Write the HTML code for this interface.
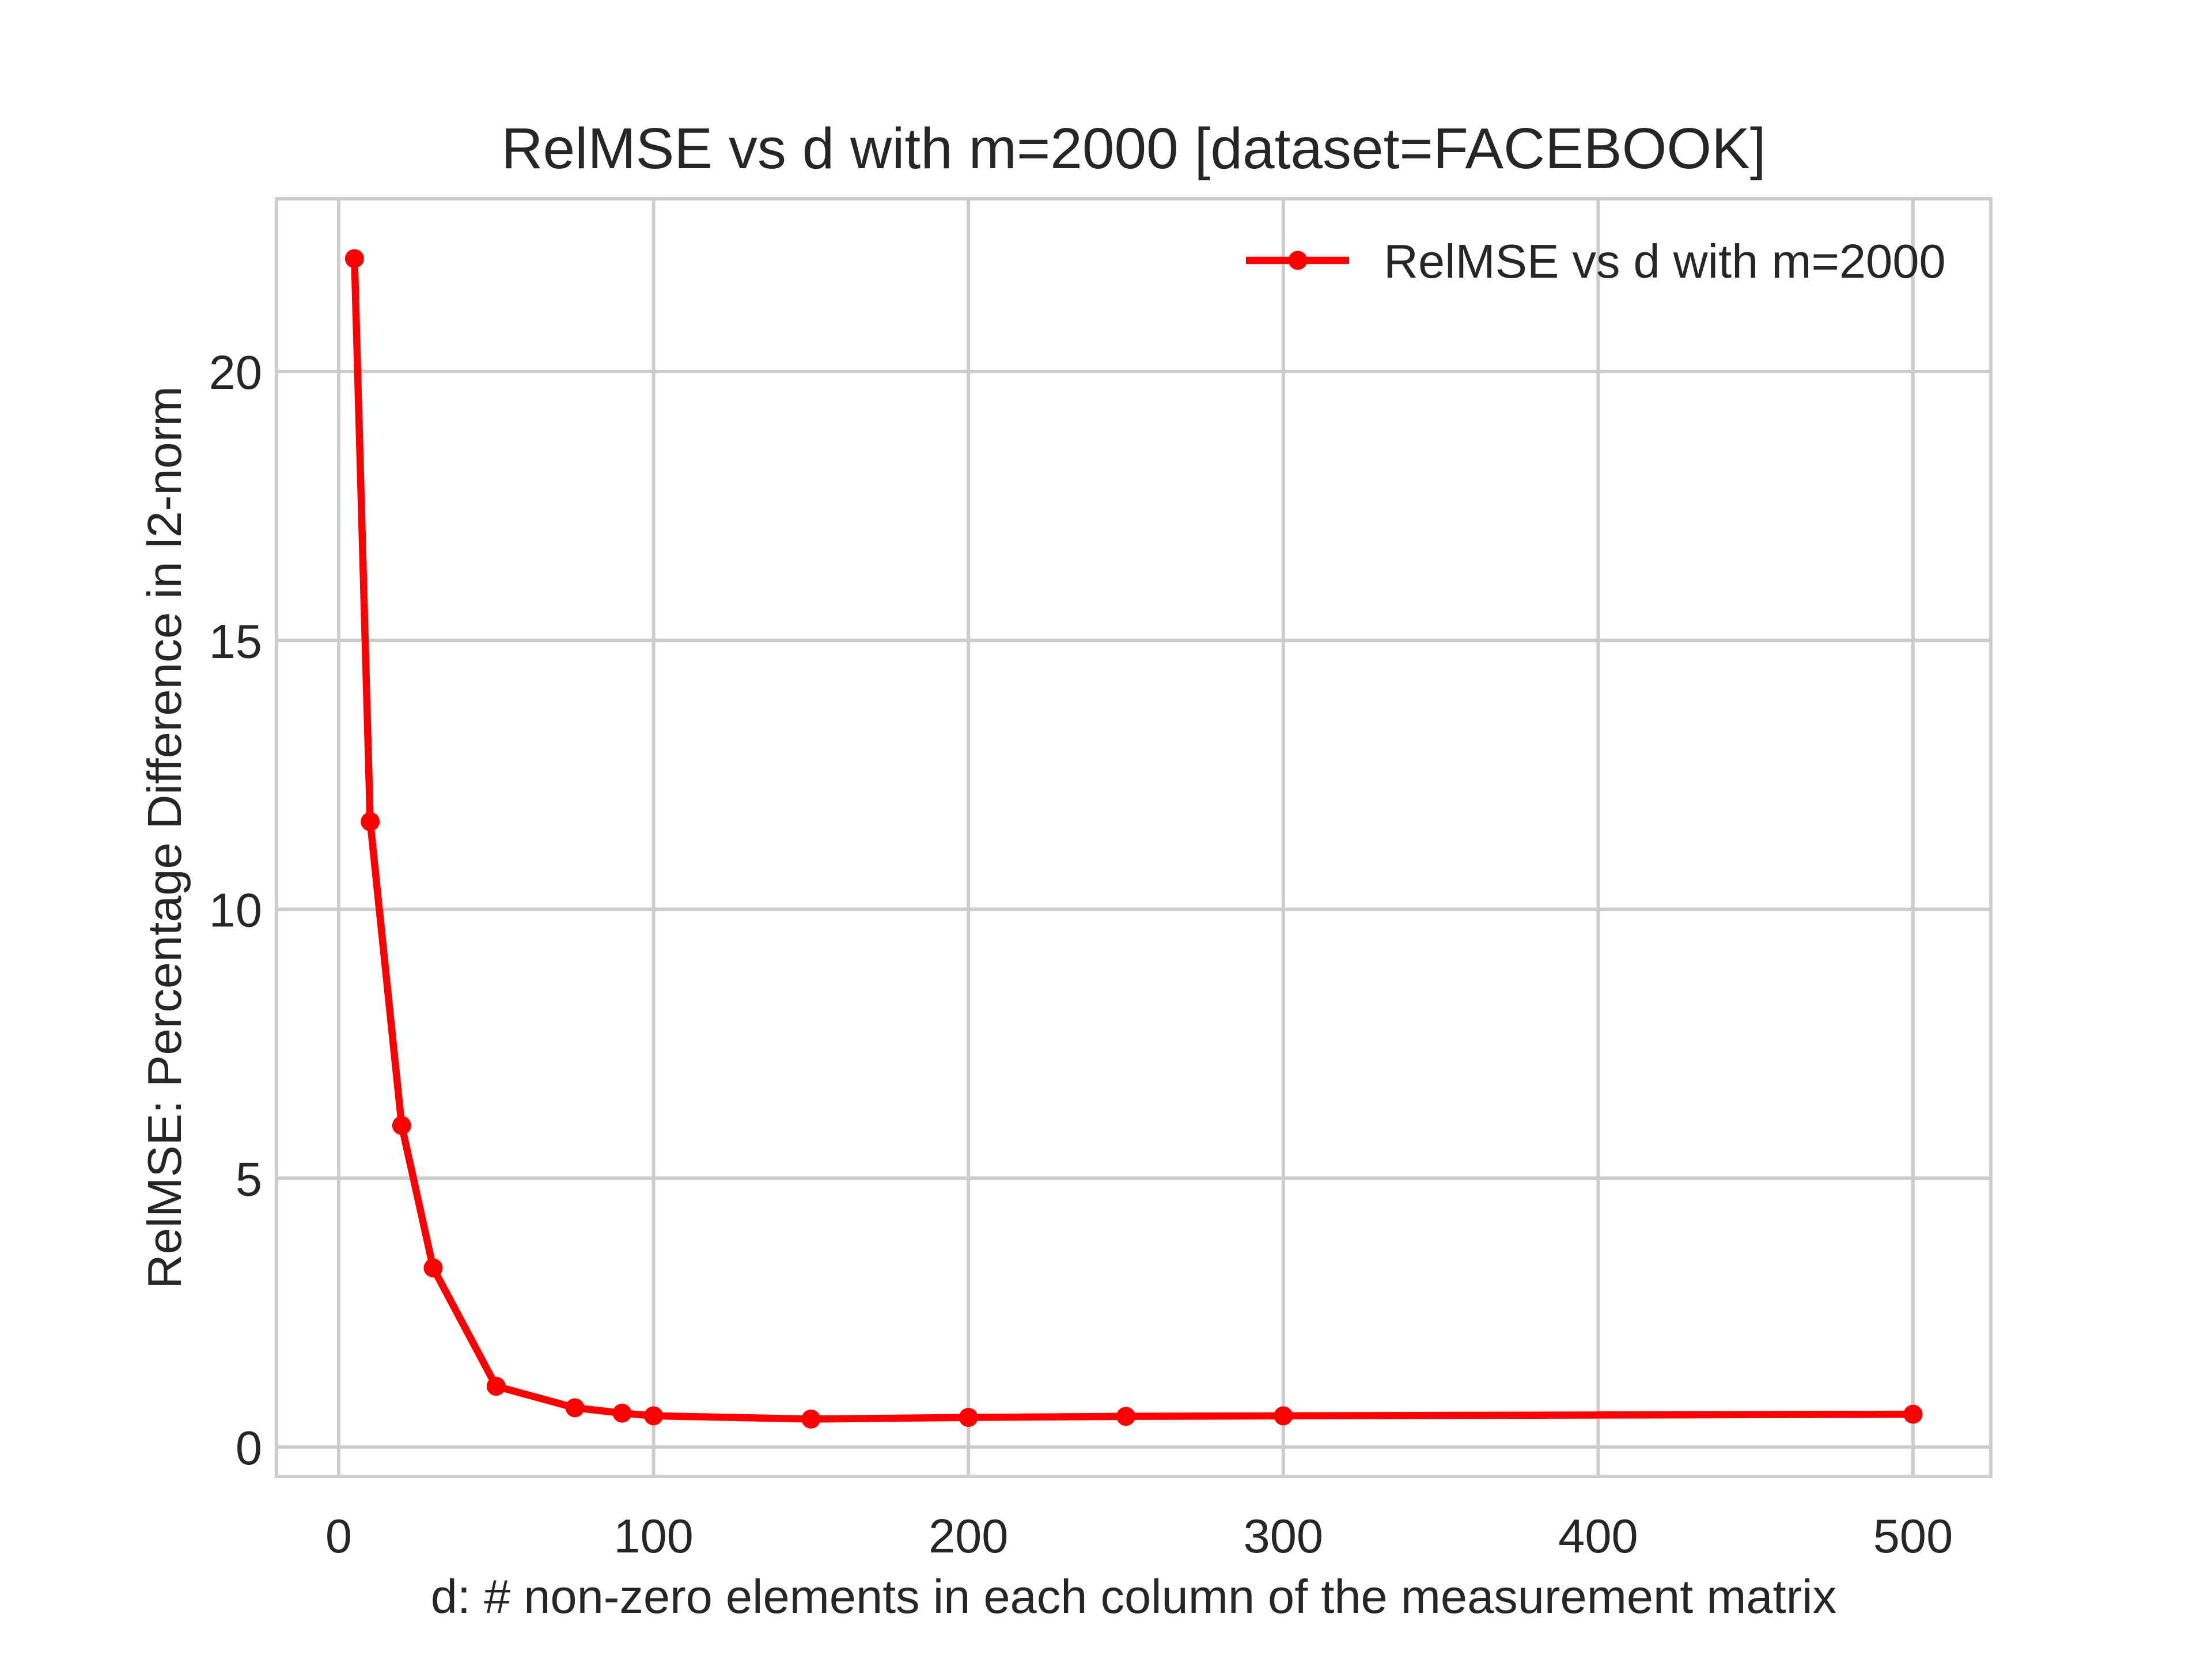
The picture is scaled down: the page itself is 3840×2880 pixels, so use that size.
<!DOCTYPE html>
<html><head><meta charset="utf-8"><style>body{margin:0;background:#fff}svg{display:block;font-family:"Liberation Sans",sans-serif}</style></head>
<body>
<svg id="chart" width="3840" height="2880" viewBox="0 0 3840 2880" xmlns="http://www.w3.org/2000/svg">
<rect width="3840" height="2880" fill="#fff"/>
<g id="grid"></g>
<rect x="480" y="345" width="2976" height="2218" fill="none" stroke="#cccccc" stroke-width="6"/>
<g id="ticks" fill="#262626" font-size="83"></g>
<g id="series"></g>
<text x="1968" y="292" text-anchor="middle" font-size="100" fill="#262626">RelMSE vs d with m=2000 [dataset=FACEBOOK]</text>
<text x="1968" y="2800" text-anchor="middle" font-size="83" fill="#262626">d: # non-zero elements in each column of the measurement matrix</text>
<text transform="translate(314,1454) rotate(-90)" text-anchor="middle" font-size="83" fill="#262626">RelMSE: Percentage Difference in l2-norm</text>
<g>
<line x1="2163" y1="452" x2="2342" y2="452" stroke="#ff0000" stroke-width="12.5"/>
<circle cx="2253" cy="452" r="16.5" fill="#ff0000"/>
<text x="2402" y="482" font-size="83" fill="#262626">RelMSE vs d with m=2000</text>
</g>
</svg>
<script>
const xValues = [5, 10, 20, 30, 50, 75, 90, 100, 150, 200, 250, 300, 500];
const yValues = [22.1, 11.63, 5.98, 3.33, 1.13, 0.73, 0.63, 0.58, 0.52, 0.55, 0.57, 0.58, 0.61];
const xTicks = [0, 100, 200, 300, 400, 500];
const yTicks = [0, 5, 10, 15, 20];
const NS = 'http://www.w3.org/2000/svg';
function xs(v){return 588 + v*5.466;}
function ys(v){return 2512 - v*93.35;}
const grid = document.getElementById('grid'), ticks = document.getElementById('ticks'), series = document.getElementById('series');
function mk(tag, attrs, parent){const e=document.createElementNS(NS,tag);for(const k in attrs)e.setAttribute(k,attrs[k]);parent.appendChild(e);return e;}
xTicks.forEach(t=>{
  const l=mk('line',{x1:xs(t),x2:xs(t),y1:345,y2:2563,stroke:'#cccccc','stroke-width':6},grid);
  
  
  const tx=mk('text',{x:xs(t),y:2695,'text-anchor':'middle'},ticks);
  tx.textContent=t;
  
  
});
yTicks.forEach(t=>{
  const l=mk('line',{x1:480,x2:3456,y1:ys(t),y2:ys(t),stroke:'#cccccc','stroke-width':6},grid);
  
  
  const tx=mk('text',{x:455,y:ys(t)+30,'text-anchor':'end'},ticks);
  tx.textContent=t;
  
  
});
const pts = xValues.map((x,i)=>xs(x)+','+ys(yValues[i])).join(' ');
const pl = mk('polyline',{points:pts,fill:'none',stroke:'#ff0000','stroke-width':12.5,'stroke-linejoin':'round'},series);


xValues.forEach((x,i)=>{
  const c=mk('circle',{cx:xs(x),cy:ys(yValues[i]),r:16.5,fill:'#ff0000'},series);
  
  
});
</script>
</body></html>
